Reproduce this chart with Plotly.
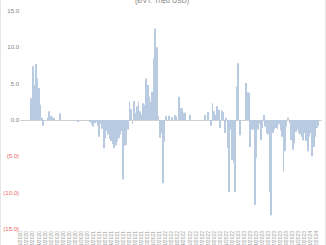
import plotly.graph_objects as go

title_text = "(ĐVT: Triệu USD)"

values = [
    0, 0, 0, 0, 0, 0, 0, 3.0, 7.4, 4.8,
    7.7, 5.7, 4.4, 2.1, 0.3, -0.8, 0, 0, 0.3, 1.2,
    0.6, 0.4, 0.2, 0, 0, 0, 0.9, 0, 0, 0,
    0, 0, 0, 0, 0, 0, 0, 0, -0.2, 0,
    0, 0, -0.1, 0, 0, 0, -0.2, -0.6, -0.9, -0.4,
    -0.2, -0.8, -2.3, -0.5, -1.2, -3.9, -2.5, -1.5, -2.0, -2.6,
    -2.9, -3.3, -3.9, -3.5, -3.0, -2.5, -2.0, -1.5, -8.2, -3.5,
    -3.4, -1.3, 2.5, 1.5, -0.5, 2.6, 1.0, 1.9, 2.5, 1.2,
    0.8, 2.3, 2.1, 5.7, 4.8, 3.2, 2.5, 3.9, 8.5, 12.6,
    10.0, 0.5, -2.4, -1.8, -8.7, -3.0, 0.5, 0, 0.6, 0,
    0.4, 0, 0.7, 0.5, 0, 3.2, 1.6, 1.6, 1.0, 1.0,
    0, 0, 0.7, 0, 0, 0, 0, 0, 0, 0,
    0, 0, 0.7, 0, 1.1, 0, -0.8, 2.3, 1.2, 0.7,
    1.9, 1.4, -1.1, 1.3, 1.1, -1.8, 0.3, -3.9, -9.9, -1.3,
    -5.5, -5.9, -9.9, 4.6, 7.8, -2.1, 0, 0, 0, 5.1,
    3.8, 3.8, -3.7, -1.3, -1.3, -11.7, -5.2, -1.3, -0.5, -2.8,
    -1.1, 0.7, -0.9, -1.8, -2.0, -9.9, -13.1, -1.8, -1.3, -1.1,
    -1.3, -0.6, -1.4, -2.3, -7.1, -4.3, -0.9, 0.3, -0.4, -2.8,
    -4.1, -3.2, -1.6, -1.3, -1.8, -2.0, -2.3, -2.8, -1.8, -2.9,
    -4.3, -2.3, -1.8, -5.0, -3.7, -2.3, -1.1, -0.8, 0, 0,
]

tick_labels = [
    "1/2020", "2/2020", "3/2020", "4/2020", "5/2020", "6/2020", "7/2020", "8/2020", "9/2020", "10/2020",
    "11/2020", "12/2020", "1/2021", "2/2021", "3/2021", "4/2021", "5/2021", "6/2021", "7/2021", "8/2021",
    "9/2021", "10/2021", "11/2021", "12/2021", "1/2022", "2/2022", "3/2022", "4/2022", "5/2022", "6/2022",
    "7/2022", "8/2022", "9/2022", "10/2022", "11/2022", "12/2022", "1/2023", "2/2023", "3/2023", "4/2023",
    "5/2023", "6/2023", "7/2023", "8/2023", "9/2023", "10/2023", "11/2023", "12/2023", "1/2024", "2/2024",
]

pos_ticks = [0, 5, 10, 15]
pos_labels = ["0.0", "5.0", "10.0", "15.0"]
neg_ticks = [-5, -10, -15]
neg_labels = ["(5.0)", "(10.0)", "(15.0)"]

x = list(range(len(values)))
tick_step = len(values) // len(tick_labels)
tick_positions = x[::tick_step][:len(tick_labels)]

fig = go.Figure()
fig.add_trace(go.Bar(x=x, y=values, marker=dict(color="#b9cbe0", line=dict(width=0)),
                     showlegend=False))
# invisible trace to activate secondary y axis
fig.add_trace(go.Scatter(x=[x[0]], y=[0], yaxis="y2", mode="markers",
                         marker=dict(opacity=0), showlegend=False, hoverinfo="skip"))

font_family = "Liberation Sans, Arial, sans-serif"

fig.update_layout(
    width=326, height=245,
    margin=dict(l=20, r=4, t=11, b=16),
    paper_bgcolor="white", plot_bgcolor="white",
    bargap=0.4,
    font=dict(family=font_family, size=6, color="#7f7f7f"),
    xaxis=dict(
        range=[-0.5, len(values) - 0.5], automargin=False,
        tickmode="array", tickvals=tick_positions, ticktext=tick_labels,
        tickangle=-90, tickfont=dict(size=5, color="#9a9a9a"),
        showgrid=False, zeroline=False, showline=False, ticks="",
    ),
    yaxis=dict(
        range=[-15, 15], automargin=False, tickmode="array", tickvals=pos_ticks, ticktext=pos_labels,
        tickfont=dict(size=6, color="#808080"),
        showgrid=False, zeroline=True, zerolinecolor="#d0d0d0", zerolinewidth=1,
        showline=False, ticks="",
    ),
    yaxis2=dict(
        range=[-15, 15], automargin=False, overlaying="y", side="left", tickmode="array",
        tickvals=neg_ticks, ticktext=neg_labels,
        tickfont=dict(size=6, color="#e5645c"),
        showgrid=False, zeroline=False, showline=False, ticks="",
    ),
    annotations=[dict(
        text=title_text, xref="paper", yref="paper", x=0.47, y=1.047,
        xanchor="center", yanchor="middle", showarrow=False,
        font=dict(size=7, color="#7f7f7f", family=font_family),
    )],
    shapes=[
        dict(type="line", xref="paper", yref="paper", x0=-0.065, x1=-0.065, y0=-0.2, y1=1.2,
             line=dict(color="#e3e3e3", width=1)),
        dict(type="line", xref="paper", yref="paper", x0=1.0115, x1=1.0115, y0=-0.2, y1=1.2,
             line=dict(color="#e3e3e3", width=1)),
    ],
)

fig.write_html("out.html")
